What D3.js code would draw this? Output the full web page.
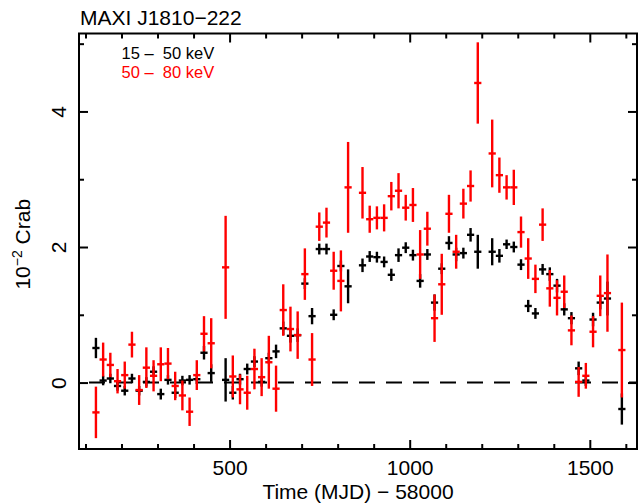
<!DOCTYPE html>
<html>
<head>
<meta charset="utf-8">
<script src="https://cdn.jsdelivr.net/npm/d3@7"></script>
<style>
  html, body { margin: 0; padding: 0; background: #fff; }
  svg text { font-family: "Liberation Sans", Arial, Helvetica, sans-serif; }
</style>
</head>
<body>
<div id="chart"></div>
<script>
// ---- data (20-day bins, MJD - 58000) ----
const times = [129,149,169,189,209,229,249,269,289,309,329,349,369,389,409,429,449,
  489,509,529,549,569,589,609,629,649,669,689,709,729,749,769,789,809,829,
  869,889,909,929,949,969,989,1009,1029,1049,1069,1089,1109,1129,1149,1169,1189,
  1229,1249,1269,1289,1309,1329,1349,1369,1389,1409,1429,1449,1469,1489,1509,1529,1549,
  1589];
const halfBin = 10;

// 15 - 50 keV (black)
const soft = [0.51,0.03,0.06,-0.05,-0.12,0.06,-0.12,0.01,0.16,-0.17,0.04,-0.15,0.03,0.04,0.05,0.44,0.14,
  0.04,-0.15,0.05,0.20,0.31,0.01,0.36,0.46,0.80,0.69,0.70,1.46,0.98,1.97,1.97,1.00,1.72,1.42,
  1.73,1.86,1.85,1.78,1.59,1.88,1.99,1.88,1.50,1.89,1.18,1.68,2.06,1.89,1.91,2.18,1.93,
  1.93,1.87,2.04,2.00,1.74,1.13,1.02,1.67,1.60,1.43,1.08,0.95,0.21,0.03,0.93,1.18,1.24,
  -0.39];
const softErr = [0.15,0.07,0.07,0.07,0.07,0.07,0.07,0.07,0.08,0.08,0.07,0.08,0.07,0.07,0.07,0.10,0.13,
  0.32,0.10,0.08,0.08,0.08,0.07,0.08,0.10,0.10,0.10,0.10,0.08,0.12,0.08,0.08,0.08,0.08,0.25,
  0.10,0.08,0.08,0.08,0.09,0.10,0.08,0.08,0.10,0.08,0.12,0.08,0.10,0.10,0.08,0.10,0.25,
  0.20,0.10,0.07,0.08,0.08,0.09,0.08,0.08,0.10,0.10,0.09,0.09,0.10,0.08,0.10,0.10,0.25,
  0.23];

// 50 - 80 keV (red)
const hard = [-0.44,0.34,0.26,0.02,0.11,0.56,-0.11,0.22,0.10,0.27,0.28,-0.05,-0.19,-0.43,0.11,0.72,0.58,
  1.70,0.09,-0.10,-0.15,0.20,0.08,0.30,-0.09,1.07,0.79,0.70,1.60,0.34,2.30,2.36,1.65,1.50,2.88,
  2.80,2.41,2.43,2.43,2.75,2.83,2.58,2.62,1.89,2.27,0.95,1.45,2.49,1.93,2.64,2.90,4.42,
  3.38,3.06,2.88,2.88,2.22,1.83,1.53,2.33,1.39,1.25,1.34,0.77,0.01,0.10,0.75,1.28,1.32,
  0.48];
const hardErr = [0.38,0.25,0.18,0.18,0.20,0.19,0.22,0.30,0.23,0.25,0.23,0.21,0.22,0.21,0.22,0.26,0.37,
  0.76,0.31,0.22,0.25,0.30,0.28,0.39,0.34,0.38,0.33,0.35,0.38,0.39,0.21,0.22,0.28,0.45,0.67,
  0.38,0.20,0.17,0.20,0.21,0.26,0.19,0.25,0.36,0.25,0.35,0.45,0.28,0.25,0.22,0.23,0.60,
  0.50,0.26,0.18,0.26,0.23,0.30,0.21,0.24,0.27,0.26,0.24,0.22,0.22,0.19,0.23,0.30,0.57,
  0.70];

const xMajor = [500, 1000, 1500];
const xMinor = [100,200,300,400,600,700,800,900,1100,1200,1300,1400,1600];
const yMajor = [0, 2, 4];
const yMinor = [1, 3, 5];

const series = [
  { label: "15 \u2013  50 keV", color: "#000000", values: soft, errors: softErr },
  { label: "50 \u2013  80 keV", color: "#ff0000", values: hard, errors: hardErr }
];

// ---- layout ----
const W = 638, H = 503;
const L = 79, R = 637, T = 33.5, B = 449;

const svg = d3.select("#chart").append("svg")
  .attr("width", W).attr("height", H);

const x = d3.scaleLinear().domain([82, 1631]).range([L, R]);
const y = d3.scaleLinear().domain([-0.98, 5.15]).range([B, T]);

const majorLen = 9, minorLen = 5;
const axW = 2;

function styleAxis(g) {
  g.select(".domain").remove();
  g.selectAll(".tick line").attr("stroke", "#000").attr("stroke-width", axW);
}

// bottom axis
svg.append("g").attr("transform", `translate(0,${B})`)
  .call(d3.axisBottom(x).tickValues(xMajor).tickSize(-majorLen).tickPadding(11).tickFormat(d3.format("d")))
  .call(styleAxis)
  .call(g => g.selectAll("text").attr("font-size", 21).attr("fill", "#000"));
svg.append("g").attr("transform", `translate(0,${B})`)
  .call(d3.axisBottom(x).tickValues(xMinor).tickSize(-minorLen).tickFormat(""))
  .call(styleAxis);
// top axis
svg.append("g").attr("transform", `translate(0,${T})`)
  .call(d3.axisTop(x).tickValues(xMajor).tickSize(-majorLen).tickFormat(""))
  .call(styleAxis);
svg.append("g").attr("transform", `translate(0,${T})`)
  .call(d3.axisTop(x).tickValues(xMinor).tickSize(-minorLen).tickFormat(""))
  .call(styleAxis);
// left axis
svg.append("g").attr("transform", `translate(${L},0)`)
  .call(d3.axisLeft(y).tickValues(yMajor).tickSize(-majorLen).tickFormat(d3.format("d")))
  .call(styleAxis)
  .call(g => g.selectAll("text")
    .attr("font-size", 21).attr("fill", "#000")
    .attr("x", null).attr("dy", null)
    .attr("text-anchor", "middle")
    .attr("transform", "translate(-13,0) rotate(-90)"));
svg.append("g").attr("transform", `translate(${L},0)`)
  .call(d3.axisLeft(y).tickValues(yMinor).tickSize(-minorLen).tickFormat(""))
  .call(styleAxis);
// right axis
svg.append("g").attr("transform", `translate(${R},0)`)
  .call(d3.axisRight(y).tickValues(yMajor).tickSize(-majorLen).tickFormat(""))
  .call(styleAxis);
svg.append("g").attr("transform", `translate(${R},0)`)
  .call(d3.axisRight(y).tickValues(yMinor).tickSize(-minorLen).tickFormat(""))
  .call(styleAxis);

// zero dashed line
svg.append("line")
  .attr("x1", L).attr("x2", R)
  .attr("y1", y(0)).attr("y2", y(0))
  .attr("stroke", "#000").attr("stroke-width", 2)
  .attr("stroke-dasharray", "16,11").attr("stroke-dashoffset", 17);

// data crosses
series.forEach(s => {
  const g = svg.append("g");
  times.forEach((t, i) => {
    const v = s.values[i], e = s.errors[i];
    g.append("line")
      .attr("x1", x(t)).attr("x2", x(t))
      .attr("y1", y(v - e)).attr("y2", y(v + e))
      .attr("stroke", s.color).attr("stroke-width", 2.4);
    g.append("line")
      .attr("x1", x(t - halfBin)).attr("x2", x(t + halfBin))
      .attr("y1", y(v)).attr("y2", y(v))
      .attr("stroke", s.color).attr("stroke-width", 2.4);
  });
});

// frame
svg.append("rect")
  .attr("x", L).attr("y", T).attr("width", R - L).attr("height", B - T)
  .attr("fill", "none").attr("stroke", "#000").attr("stroke-width", axW);

// title
svg.append("text").attr("x", 80).attr("y", 25)
  .attr("font-size", 21).attr("fill", "#000")
  .text("MAXI J1810\u2212222");

// legend
series.forEach((s, i) => {
  svg.append("text")
    .attr("x", 121.5).attr("y", 59 + i * 18.5)
    .attr("font-size", 16.5).attr("fill", s.color)
    .style("white-space", "pre")
    .text(s.label);
});

// x label
svg.append("text")
  .attr("x", (L + R) / 2).attr("y", 499)
  .attr("text-anchor", "middle")
  .attr("font-size", 21).attr("fill", "#000")
  .text("Time (MJD) \u2212 58000");

// y label
const yl = svg.append("text")
  .attr("transform", `translate(30,${(T + B) / 2 + 3}) rotate(-90)`)
  .attr("text-anchor", "middle")
  .attr("font-size", 21).attr("fill", "#000");
yl.append("tspan").text("10");
yl.append("tspan").attr("font-size", 14).attr("dy", -8).text("\u22122");
yl.append("tspan").attr("dy", 8).text(" Crab");
</script>
</body>
</html>
